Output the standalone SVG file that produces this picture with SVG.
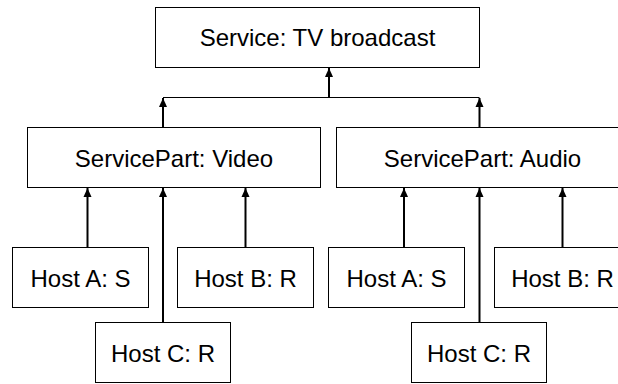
<svg xmlns="http://www.w3.org/2000/svg" width="618" height="384" viewBox="0 0 618 384">
  <style>
    .box { fill: #ffffff; stroke: #000000; stroke-width: 1; }
    .lbl { font-family: "Liberation Sans", Arial, sans-serif; font-size: 24px; fill: #000000; text-anchor: middle; }
    .arr { fill: none; stroke: #000000; stroke-width: 2; marker-end: url(#ah); }
    .ln { fill: none; stroke: #000000; stroke-width: 1; }
  </style>
  <defs>
    <marker id="ah" markerUnits="userSpaceOnUse" markerWidth="10" markerHeight="10" viewBox="0 0 10 8" refX="9" refY="4" orient="auto">
      <path d="M0,0 L9,4 L0,8 Z" fill="#000000"/>
    </marker>
  </defs>
  <rect width="618" height="384" fill="#ffffff"/>

  <g id="connectors">
    <line class="ln" x1="163" y1="97.5" x2="479.5" y2="97.5"/>
    <line class="arr" x1="329" y1="97.5" x2="329" y2="68"/>
    <line class="arr" x1="163" y1="127" x2="163" y2="98"/>
    <line class="arr" x1="479.5" y1="127" x2="479.5" y2="98"/>
    <line class="arr" x1="87.5" y1="247" x2="87.5" y2="188"/>
    <line class="arr" x1="163" y1="322" x2="163" y2="188"/>
    <line class="arr" x1="245.5" y1="247" x2="245.5" y2="188"/>
    <line class="arr" x1="404" y1="247" x2="404" y2="188"/>
    <line class="arr" x1="479.5" y1="322" x2="479.5" y2="188"/>
    <line class="arr" x1="562.5" y1="247" x2="562.5" y2="188"/>
  </g>

  <g id="service">
    <rect class="box" x="155.5" y="7.5" width="324" height="60"/>
    <text class="lbl" x="317.5" y="45.7">Service: TV broadcast</text>
  </g>
  <g id="part-video">
    <rect class="box" x="27.5" y="127.5" width="293" height="60"/>
    <text class="lbl" x="174" y="166.7">ServicePart: Video</text>
  </g>
  <g id="part-audio">
    <rect class="box" x="336.5" y="127.5" width="293" height="60"/>
    <text class="lbl" x="482.5" y="166.7">ServicePart: Audio</text>
  </g>
  <g id="video-host-a">
    <rect class="box" x="12.5" y="247.5" width="136" height="60"/>
    <text class="lbl" x="80.5" y="286.7">Host A: S</text>
  </g>
  <g id="video-host-b">
    <rect class="box" x="177.5" y="247.5" width="136" height="60"/>
    <text class="lbl" x="245.5" y="286.7">Host B: R</text>
  </g>
  <g id="video-host-c">
    <rect class="box" x="95.5" y="322.5" width="135" height="60"/>
    <text class="lbl" x="163" y="361.7">Host C: R</text>
  </g>
  <g id="audio-host-a">
    <rect class="box" x="328.5" y="247.5" width="136" height="60"/>
    <text class="lbl" x="396.5" y="286.7">Host A: S</text>
  </g>
  <g id="audio-host-b">
    <rect class="box" x="494.5" y="247.5" width="136" height="60"/>
    <text class="lbl" x="562.5" y="286.7">Host B: R</text>
  </g>
  <g id="audio-host-c">
    <rect class="box" x="411.5" y="322.5" width="135" height="60"/>
    <text class="lbl" x="479" y="361.7">Host C: R</text>
  </g>
</svg>
